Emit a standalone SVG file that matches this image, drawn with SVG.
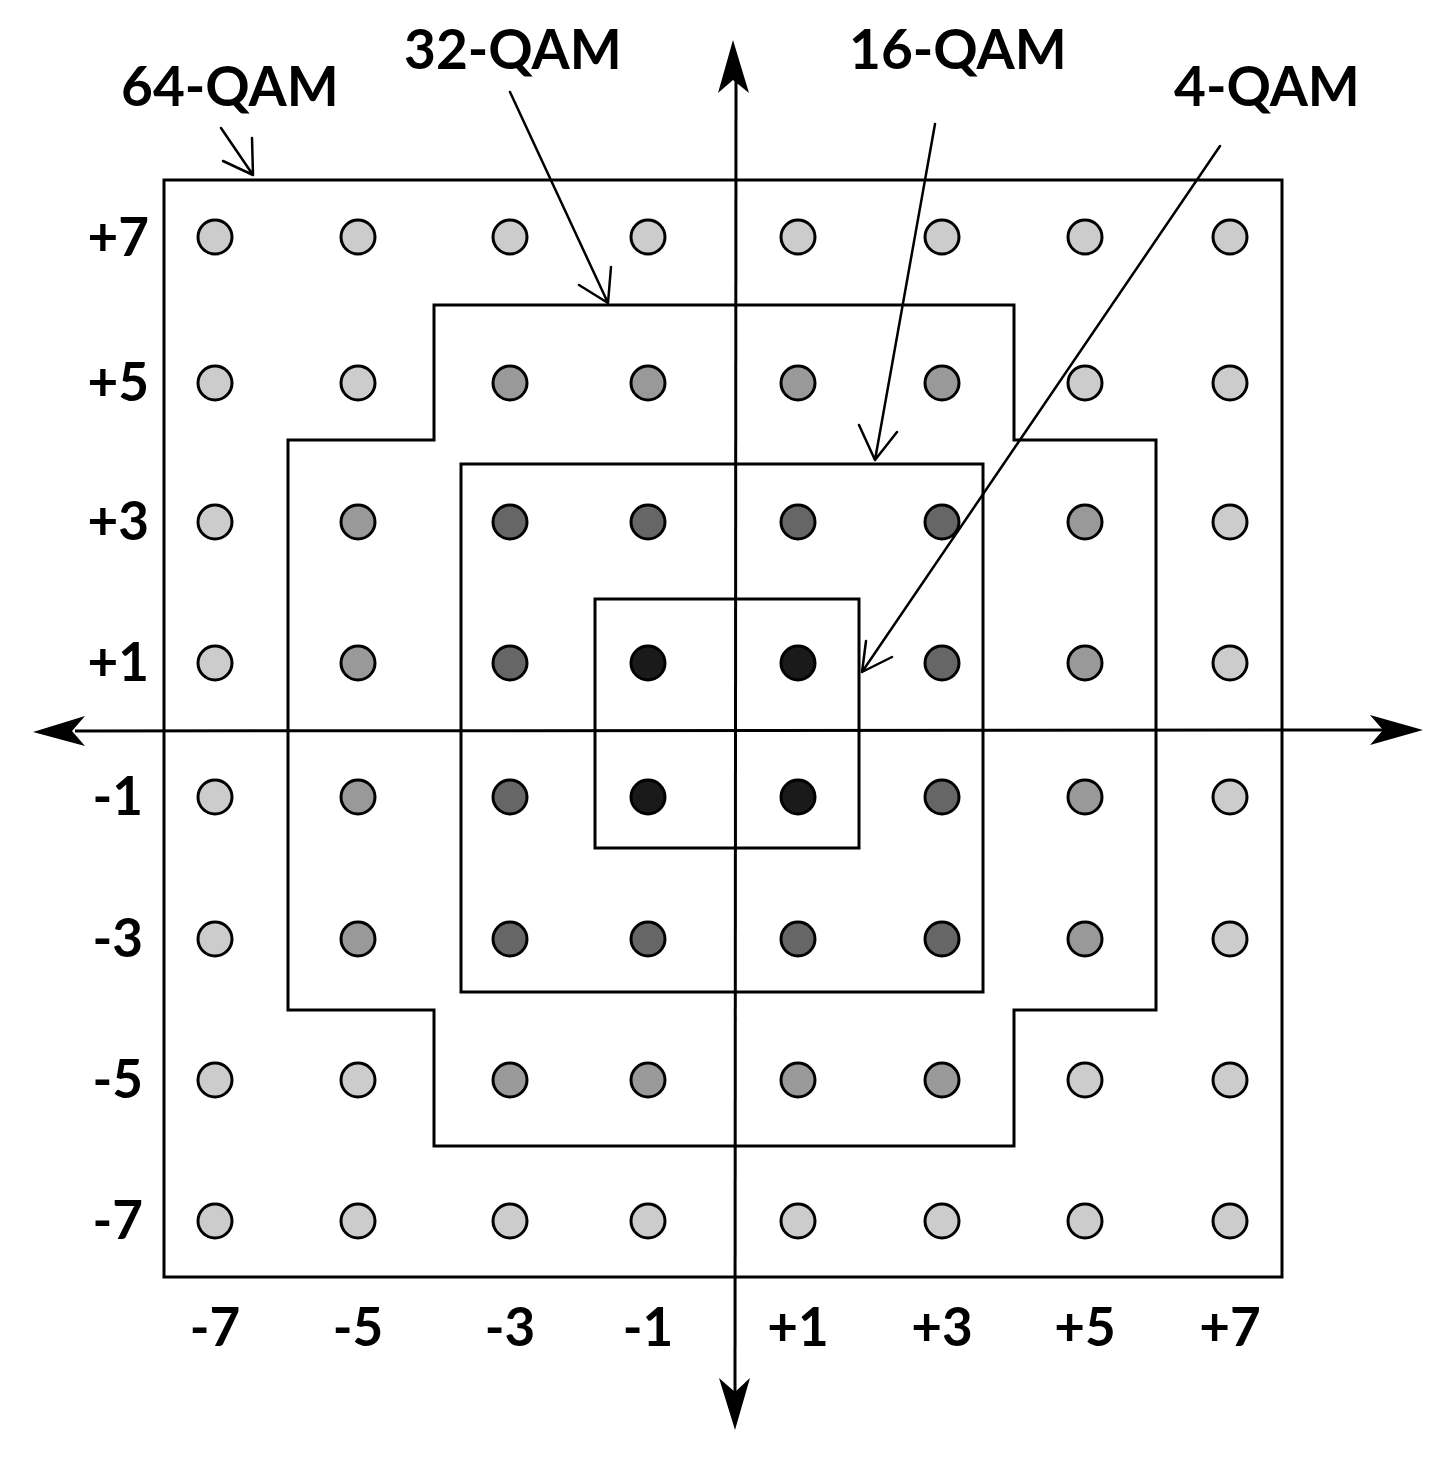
<svg xmlns="http://www.w3.org/2000/svg" width="1456" height="1465" viewBox="0 0 1456 1465">
<style>
.box{fill:none;stroke:#000;stroke-width:3}
.ax{stroke:#000;stroke-width:3;fill:none}
.head{fill:#000}
.pt{stroke:#000;stroke-width:3}
.c1{fill:#cccccc}.c2{fill:#999999}.c3{fill:#666666}.c4{fill:#1a1a1a}
.lbl{font-family:Lato,"Liberation Sans",sans-serif;font-weight:700;font-size:55px;fill:#000}
.num{font-family:Lato,"Liberation Sans",sans-serif;font-weight:700;font-size:53px;fill:#000}
.ptr{stroke:#000;stroke-width:2.5;fill:none;stroke-linecap:round;stroke-linejoin:round}
</style>
<rect width="1456" height="1465" fill="#fff"/>
<g id="regions">
<rect id="qam64" class="box" x="164" y="180" width="1118" height="1097"/>
<polygon id="qam32" class="box" points="434,305 1014,305 1014,440 1156,440 1156,1010 1014,1010 1014,1146 434,1146 434,1010 288,1010 288,440 434,440"/>
<rect id="qam16" class="box" x="461" y="464" width="522" height="528"/>
<rect id="qam4" class="box" x="595" y="599" width="264" height="249"/>
</g>
<g id="axes">
<line class="ax" x1="75" y1="731" x2="1385" y2="730"/>
<line class="ax" x1="736" y1="80" x2="735" y2="1392"/>
<polygon class="head" points="33,732 85,716 72,731 85,746"/>
<polygon class="head" points="1423,730 1370,715 1383,730 1370,745"/>
<polygon class="head" points="733,40 718,93 733,80 749,93"/>
<polygon class="head" points="735,1430 719,1378 735,1392 750,1378"/>
</g>
<g id="points">
<g class="pt">
<circle class="c1" cx="215" cy="237" r="17"/><circle class="c1" cx="358" cy="237" r="17"/><circle class="c1" cx="510" cy="237" r="17"/><circle class="c1" cx="648" cy="237" r="17"/><circle class="c1" cx="798" cy="237" r="17"/><circle class="c1" cx="942" cy="237" r="17"/><circle class="c1" cx="1085" cy="237" r="17"/><circle class="c1" cx="1230" cy="237" r="17"/>
<circle class="c1" cx="215" cy="383" r="17"/><circle class="c1" cx="358" cy="383" r="17"/><circle class="c2" cx="510" cy="383" r="17"/><circle class="c2" cx="648" cy="383" r="17"/><circle class="c2" cx="798" cy="383" r="17"/><circle class="c2" cx="942" cy="383" r="17"/><circle class="c1" cx="1085" cy="383" r="17"/><circle class="c1" cx="1230" cy="383" r="17"/>
<circle class="c1" cx="215" cy="522" r="17"/><circle class="c2" cx="358" cy="522" r="17"/><circle class="c3" cx="510" cy="522" r="17"/><circle class="c3" cx="648" cy="522" r="17"/><circle class="c3" cx="798" cy="522" r="17"/><circle class="c3" cx="942" cy="522" r="17"/><circle class="c2" cx="1085" cy="522" r="17"/><circle class="c1" cx="1230" cy="522" r="17"/>
<circle class="c1" cx="215" cy="663" r="17"/><circle class="c2" cx="358" cy="663" r="17"/><circle class="c3" cx="510" cy="663" r="17"/><circle class="c4" cx="648" cy="663" r="17"/><circle class="c4" cx="798" cy="663" r="17"/><circle class="c3" cx="942" cy="663" r="17"/><circle class="c2" cx="1085" cy="663" r="17"/><circle class="c1" cx="1230" cy="663" r="17"/>
<circle class="c1" cx="215" cy="797" r="17"/><circle class="c2" cx="358" cy="797" r="17"/><circle class="c3" cx="510" cy="797" r="17"/><circle class="c4" cx="648" cy="797" r="17"/><circle class="c4" cx="798" cy="797" r="17"/><circle class="c3" cx="942" cy="797" r="17"/><circle class="c2" cx="1085" cy="797" r="17"/><circle class="c1" cx="1230" cy="797" r="17"/>
<circle class="c1" cx="215" cy="939" r="17"/><circle class="c2" cx="358" cy="939" r="17"/><circle class="c3" cx="510" cy="939" r="17"/><circle class="c3" cx="648" cy="939" r="17"/><circle class="c3" cx="798" cy="939" r="17"/><circle class="c3" cx="942" cy="939" r="17"/><circle class="c2" cx="1085" cy="939" r="17"/><circle class="c1" cx="1230" cy="939" r="17"/>
<circle class="c1" cx="215" cy="1080" r="17"/><circle class="c1" cx="358" cy="1080" r="17"/><circle class="c2" cx="510" cy="1080" r="17"/><circle class="c2" cx="648" cy="1080" r="17"/><circle class="c2" cx="798" cy="1080" r="17"/><circle class="c2" cx="942" cy="1080" r="17"/><circle class="c1" cx="1085" cy="1080" r="17"/><circle class="c1" cx="1230" cy="1080" r="17"/>
<circle class="c1" cx="215" cy="1221" r="17"/><circle class="c1" cx="358" cy="1221" r="17"/><circle class="c1" cx="510" cy="1221" r="17"/><circle class="c1" cx="648" cy="1221" r="17"/><circle class="c1" cx="798" cy="1221" r="17"/><circle class="c1" cx="942" cy="1221" r="17"/><circle class="c1" cx="1085" cy="1221" r="17"/><circle class="c1" cx="1230" cy="1221" r="17"/>
</g>
</g>
<g id="connectors">
<path class="ptr" d="M221,128 L253,175 M223,161 L253,175 L252,138"/>
<path class="ptr" d="M510,92 L608,303 M579,285 L608,303 L611,267"/>
<path class="ptr" d="M935,124 L875,460 M859,425 L875,460 L897,432"/>
<path class="ptr" d="M1220,146 L862,672 M866,641 L862,672 L892,657"/>
</g>
<g id="labels">
<text class="lbl" x="121" y="106">64-QAM</text>
<text class="lbl" x="404" y="69">32-QAM</text>
<text class="lbl" x="849" y="69">16-QAM</text>
<text class="lbl" x="1174" y="106">4-QAM</text>
</g>
<g id="ylabels" text-anchor="end">
<text class="num" x="149" y="256">+7</text>
<text class="num" x="149" y="401">+5</text>
<text class="num" x="149" y="540">+3</text>
<text class="num" x="149" y="681">+1</text>
<text class="num" x="143" y="815">-1</text>
<text class="num" x="143" y="957">-3</text>
<text class="num" x="143" y="1098">-5</text>
<text class="num" x="143" y="1239">-7</text>
</g>
<g id="xlabels" text-anchor="middle">
<text class="num" x="215" y="1346">-7</text>
<text class="num" x="358" y="1346">-5</text>
<text class="num" x="510" y="1346">-3</text>
<text class="num" x="648" y="1346">-1</text>
<text class="num" x="798" y="1346">+1</text>
<text class="num" x="942" y="1346">+3</text>
<text class="num" x="1085" y="1346">+5</text>
<text class="num" x="1230" y="1346">+7</text>
</g>
</svg>
